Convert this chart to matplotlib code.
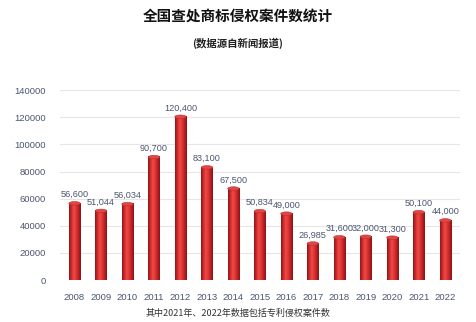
import matplotlib.pyplot as plt
import numpy as np
from matplotlib.colors import LinearSegmentedColormap
from matplotlib.patches import Ellipse

plt.rcParams['font.family'] = ['Noto Sans CJK SC', 'DejaVu Sans']

years = ['2008', '2009', '2010', '2011', '2012', '2013', '2014', '2015',
         '2016', '2017', '2018', '2019', '2020', '2021', '2022']
cases = [56600, 51044, 56034, 90700, 120400, 83100, 67500, 50834,
         49000, 26985, 31600, 32000, 31300, 50100, 44000]
yticks = [0, 20000, 40000, 60000, 80000, 100000, 120000, 140000]

title = '全国查处商标侵权案件数统计'
subtitle = '(数据源自新闻报道)'
note = '其中2021年、2022年数据包括专利侵权案件数'

# horizontal shading across each bar to look like a cylinder
cyl = LinearSegmentedColormap.from_list(
    'cyl', ['#8e1517', '#d02a2b', '#ec4a47', '#df3634', '#bd2123', '#861416'])
shade = np.linspace(0, 1, 64).reshape(1, -1)

fig = plt.figure(figsize=(4.76, 3.22), dpi=100)
ax = fig.add_axes([0.126, 0.130, 0.840, 0.590])

x = np.arange(len(years))
w = 0.43
cap_h = 2600
ax.bar(x, cases, width=w, color='none', zorder=2)
for xi, v in zip(x, cases):
    ax.imshow(shade, cmap=cyl, aspect='auto', interpolation='bilinear',
              extent=(xi - w / 2, xi + w / 2, 0, v), zorder=2)
    ax.add_patch(Ellipse((xi, 0), w, cap_h, facecolor='#9a1819',
                         edgecolor='none', zorder=1.9))
    ax.add_patch(Ellipse((xi, v), w, cap_h, facecolor='#e04845',
                         edgecolor='#c02c2c', linewidth=0.4, zorder=3))
    ax.annotate(f'{v:,}', (xi, v), xytext=(0, 3), textcoords='offset points',
                ha='center', va='bottom', fontsize=6.6, color='#4a5670',
                family=['Liberation Sans'])

ax.set_xlim(-0.55, 14.55)
ax.set_ylim(0, 140000)
ax.set_yticks(yticks)
ax.set_yticklabels([str(t) for t in yticks], family=['Liberation Sans'])
ax.set_xticks(x)
ax.set_xticklabels(years, family=['Liberation Sans'])
ax.tick_params(length=0, labelsize=6.8, labelcolor='#4a5670', pad=9)
ax.tick_params(axis='y', pad=10)
ax.grid(axis='y', color='#e6e6e6', linewidth=0.8, zorder=0)
ax.set_axisbelow(True)
for s in ax.spines.values():
    s.set_visible(False)

fig.text(0.5, 0.952, title, ha='center', va='center', fontsize=10.5,
         fontweight='bold', color='#111111')
fig.text(0.5, 0.866, subtitle, ha='center', va='center', fontsize=7.5,
         fontweight='bold', color='#222222')
fig.text(0.5, 0.028, note, ha='center', va='center', fontsize=6.5,
         color='#333333')

fig.savefig('out.png', dpi=100)
